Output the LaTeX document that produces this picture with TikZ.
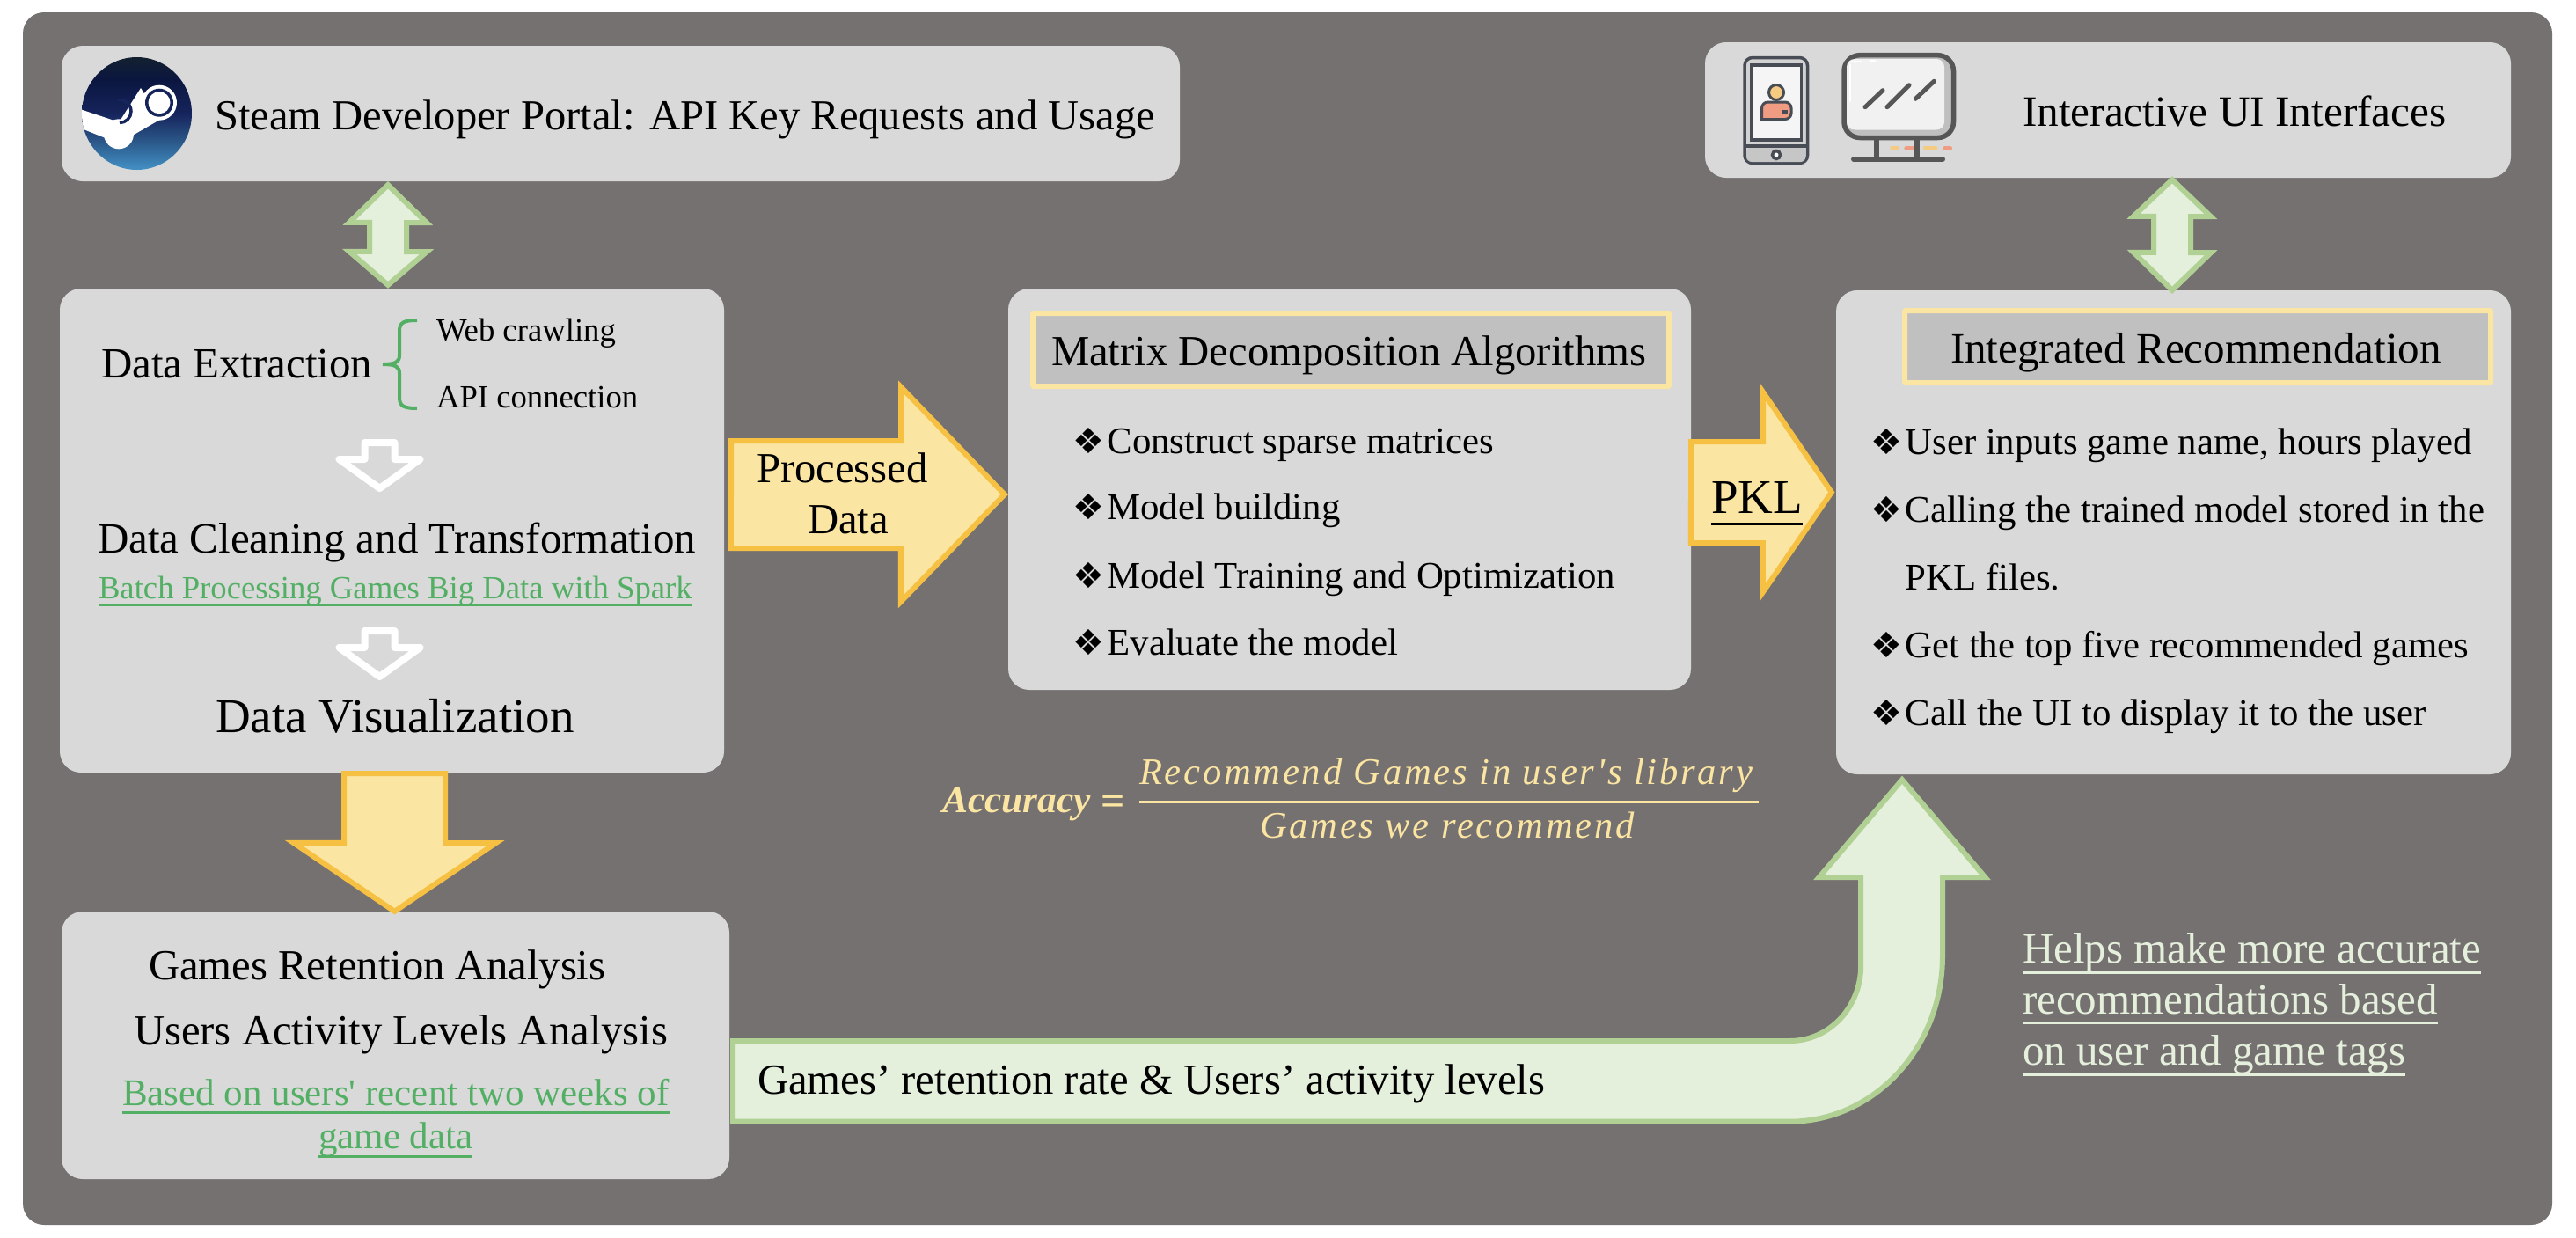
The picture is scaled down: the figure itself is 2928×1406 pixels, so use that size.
\documentclass[tikz,border=0pt]{standalone}
\usepackage{fontspec}
\setmainfont{Liberation Serif}[Ligatures=TeXOff]
\newfontfamily\dingf{DejaVu Sans}
\newfontfamily\formf{Liberation Serif}[LetterSpace=6.5,Ligatures=TeXOff]
\usetikzlibrary{calc}
\definecolor{bgc}{HTML}{767171}
\definecolor{boxc}{HTML}{D9D9D9}
\definecolor{titlec}{HTML}{C0C0C0}
\definecolor{yfill}{HTML}{FBE5A2}
\definecolor{ystroke}{HTML}{F6C142}
\definecolor{gfill}{HTML}{E4EFDC}
\definecolor{gstroke}{HTML}{B0D094}
\definecolor{gtext}{HTML}{52AF64}
\definecolor{idark}{HTML}{474C55}
\definecolor{mdark}{HTML}{565656}
\definecolor{skin}{HTML}{F5CB82}
\definecolor{salmon}{HTML}{EF9C83}
\definecolor{sa}{HTML}{4391C6}
\definecolor{sb}{HTML}{2A5687}
\definecolor{sc}{HTML}{16245C}
\definecolor{sd}{HTML}{0B1640}
\definecolor{se}{HTML}{13202F}
\pgfdeclareverticalshading{steamshade}{100bp}{color(0bp)=(sa); color(25bp)=(sa); color(38bp)=(sb); color(50bp)=(sc); color(65bp)=(sd); color(75bp)=(se); color(100bp)=(se)}
\newcommand\ultext[2]{\setbox0\hbox{#2}\rlap{\raisebox{-#1}{\rule{\wd0}{3pt}}}\box0\relax}
\newcommand\bul{\makebox[39.5pt][l]{\dingf\fontsize{40}{42}\selectfont ❖}}
\tikzset{
  panel/.style={fill=boxc,draw=none,rectangle,rounded corners=24pt,inner sep=0pt},
  titlebar/.style={fill=titlec,draw=yfill,line width=6pt,rectangle,inner sep=0pt,rounded corners=1pt},
  yarrow/.style={fill=yfill,draw=ystroke,line width=6pt,miter limit=20},
  garrow/.style={fill=gfill,draw=gstroke,line width=6pt,miter limit=20},
  warrow/.style={draw=white,line width=8pt,line join=round},
  lbl/.style={anchor=base west,inner sep=0pt,outer sep=0pt},
  big/.style={lbl,font=\fontsize{48.7}{50}\selectfont},
  mid/.style={lbl,font=\fontsize{42.8}{46}\selectfont},
  greenlbl/.style={lbl,text=gtext},
  form/.style={lbl,text=yfill,font=\formf\itshape\fontsize{42.6}{46}\selectfont},
}
\begin{document}
\begin{tikzpicture}[x=1pt,y=-1pt]
\useasboundingbox (0,0) rectangle (2928,1406);
% background and panels
\node[fill=bgc,rectangle,rounded corners=24pt,inner sep=0pt,minimum width=2875pt,minimum height=1378pt] (bg) at (1463.5,703) {};
\node[panel,minimum width=1271pt,minimum height=154pt] (steam) at (705.5,129) {};
\node[panel,minimum width=755pt,minimum height=550pt] (data) at (445.5,603) {};
\node[panel,minimum width=759pt,minimum height=304pt] (ret) at (449.5,1188) {};
\node[panel,minimum width=776pt,minimum height=456pt] (matrix) at (1534,556) {};
\node[panel,minimum width=916pt,minimum height=154pt] (ui) at (2396,125) {};
\node[panel,minimum width=767pt,minimum height=550pt] (rec) at (2470.5,605) {};
\node[titlebar,minimum width=723pt,minimum height=83pt] (mtitle) at (1535.5,397.5) {};
\node[titlebar,minimum width=666pt,minimum height=82pt] (rtitle) at (2498,394) {};

% double arrows
\coordinate (dlT) at ($(steam.south)+(-264.5,4)$);
\coordinate (dlB) at ($(data.north)+(-4.5,-4)$);
\draw[garrow] (dlT) -- ++(44,43) -- ++(-23,0) -- ++(0,33) -- ++(23,0) -- (dlB) -- ++(-44,-38) -- ++(23,0) -- ++(0,-33) -- ++(-23,0) -- cycle;
\coordinate (urT) at ($(ui.south)+(73,2)$);
\coordinate (urB) at ($(rec.north)+(-1.5,0)$);
\draw[garrow] (urT) -- ++(44,42) -- ++(-23,0) -- ++(0,41) -- ++(23,0) -- (urB) -- ++(-44,-43) -- ++(23,0) -- ++(0,-41) -- ++(-23,0) -- cycle;
% yellow arrows
\coordinate (prA) at ($(data.east)+(8,-102)$);
\coordinate (prTip) at ($(matrix.west)+(-4,6)$);
\draw[yarrow] (prA) -- ++(193,0) -- ++(0,-61) -- (prTip) -- ++(-118,122) -- ++(0,-61) -- ++(-193,0) -- cycle;
\coordinate (pkA) at ($(matrix.east)+(0,-54)$);
\coordinate (pkTip) at ($(rec.west)+(-5,-45.5)$);
\draw[yarrow] (pkA) -- ++(82,0) -- ++(0,-56) -- (pkTip) -- ++(-78,113.5) -- ++(0,-56) -- ++(-82,0) -- cycle;
\coordinate (dnA) at ($(data.south)+(-54.5,1)$);
\coordinate (dnTip) at ($(ret.north)+(-1,0)$);
\draw[yarrow] (dnA) -- ++(115,0) -- ++(0,79) -- ++(57.5,0) -- (dnTip) -- ++(-115,-78) -- ++(57.5,0) -- cycle;
% big green arrow
\coordinate (grA) at ($(ret.east)+(4,-5)$);
\coordinate (grTip) at ($(rec.south)+(-308.5,6)$);
\draw[garrow] (grA) -- ++(1201,0) .. controls +(45,0) and +(0,48) .. ++(81,-86) -- ++(0,-100) -- ++(-47.5,0) -- (grTip) -- ++(94.5,111) -- ++(-48.5,0) -- ++(0,89) .. controls +(0,105) and +(96,0) .. ++(-174,188.5) -- ++(-1201,0) -- cycle;
% white arrows inside the data panel
\draw[warrow] (414.5,503) -- (448.5,503) -- (448.5,522) -- (477.5,522) -- (431.5,555) -- (385.5,522) -- (414.5,522) -- cycle;
\draw[warrow] (414.5,717) -- (448.5,717) -- (448.5,736) -- (477.5,736) -- (431.5,769) -- (385.5,736) -- (414.5,736) -- cycle;
% brace
\draw[gtext,line width=4pt] (474,364) .. controls (460,364) and (454,366) .. (454,376) -- (454,404) .. controls (454,411) and (450,414) .. (435,414) .. controls (450,414) and (454,417) .. (454,424) -- (454,452) .. controls (454,462) and (460,464) .. (474,464);

% steam logo
\begin{scope}
\clip (155.5,129) ellipse [x radius=62.5,y radius=64];
\shade[shading=steamshade] (155.5,129) ellipse [x radius=62.5,y radius=64];
\fill[white] (181,116.7) circle [radius=20];
\fill[white] (160,100) -- (136.7,136.7) -- (151.7,153.3) -- (181.7,136) -- cycle;
\fill[white] (135,152.3) circle [radius=17];
\draw[sc,line width=3.5pt] (136,139.5) arc [start angle=90,end angle=-100,radius=13];
\fill[white] (85,122) -- (133,138) -- (135,163) -- (85,143) -- cycle;
\fill[sc] (181,116.7) circle [radius=16];
\fill[white] (181,116.7) circle [radius=12.5];
\end{scope}

% phone icon
\filldraw[fill=white!65!gray,draw=idark,line width=3.5pt,rounded corners=9pt] (1983,65.5) rectangle (2054.5,185.5);
\fill[fill=white!55!gray,rounded corners=6pt] (1985,167) rectangle (2052.5,184);
\draw[idark,line width=3.5pt] (1983,166) -- (2054.5,166);
\filldraw[fill=white!92!gray,draw=idark,line width=3.5pt] (1990.5,74) rectangle (2047.5,159);
\filldraw[fill=white,draw=idark,line width=3.5pt] (2019,176) circle [radius=4.5];
\filldraw[fill=salmon,draw=idark,line width=3pt,rounded corners=7pt] (2002.5,135.5) -- (2002.5,116) -- (2036,116) -- (2036,135.5) [sharp corners] -- cycle;
\filldraw[fill=skin,draw=idark,line width=3pt] (2019,105) circle [radius=8.5];
\fill[idark] (2025,125) rectangle (2031.7,129);

% monitor icon
\foreach \xa/\xb/\cc in {2150.7/2156.7/skin,2166.7/2176.7/salmon,2188.3/2200/skin,2210.7/2216.7/salmon}
  \draw[\cc,line width=4.7pt,line cap=round] (\xa,168.3) -- (\xb,168.3);
\draw[mdark,line width=6pt] (2132.7,158) -- (2132.7,179);
\draw[mdark,line width=6pt] (2179.3,158) -- (2179.3,179);
\draw[mdark,line width=6pt,line cap=round] (2107,181) -- (2208,181);
\filldraw[fill=white!50!gray,draw=mdark,line width=5.5pt,rounded corners=18pt] (2096,62.7) rectangle (2220.5,156.5);
\fill[white!89!gray,rounded corners=9pt] (2099,67) rectangle (2210,147.5);
\draw[white,line width=2pt,line cap=round] (2103,73) -- (2103,115);
\draw[white,line width=2.5pt,line cap=round] (2105,70) -- (2116,70);
\draw[white,line width=2.5pt,line cap=round] (2126,69.5) -- (2131,69.5);
\draw[mdark,line width=5pt,line cap=round] (2120,121.7) -- (2140,102.7);
\draw[mdark,line width=5pt,line cap=round] (2145,121.7) -- (2170,96.7);
\draw[mdark,line width=5pt,line cap=round] (2177.3,112.3) -- (2198.3,92.3);

% texts
\node[lbl,font=\fontsize{48.6}{50}\selectfont] (tsteam) at (244,147) {Steam Developer Portal: API Key Requests and Usage};
\node[lbl,font=\fontsize{49.3}{50}\selectfont] (tui) at (2299,143) {Interactive UI Interfaces};
\node[lbl,font=\fontsize{48.9}{50}\selectfont] (text) at (115,429) {Data Extraction};
\node[lbl,font=\fontsize{36.7}{38}\selectfont] (tweb) at (496,387) {Web crawling};
\node[lbl,font=\fontsize{36.7}{38}\selectfont] (tapi) at (496,463) {API connection};
\node[lbl,font=\fontsize{49}{50}\selectfont] (tclean) at (111,628) {Data Cleaning and Transformation};
\node[greenlbl,font=\fontsize{36.7}{38}\selectfont] (tbatch) at (112,680) {\ultext{8.5pt}{Batch Processing Games Big Data with Spark}};
\node[lbl,font=\fontsize{55}{57}\selectfont] (tvis) at (245,832) {Data Visualization};
\node[big] (tgra) at (169,1113) {Games Retention Analysis};
\node[big] (tusa) at (152,1187) {Users Activity Levels Analysis};
\node[greenlbl,font=\fontsize{43}{45}\selectfont] (tbased) at (139,1256) {\ultext{9.5pt}{Based on users' recent two weeks of}};
\node[greenlbl,font=\fontsize{43}{45}\selectfont] (tgame) at (362,1305) {\ultext{10.5pt}{game data}};
\node[big] (tproc) at (860,548) {Processed};
\node[big] (tdata) at (918,606) {Data};
\node[lbl,font=\fontsize{55}{57}\selectfont] (tpkl) at (1945,583) {\ultext{13.5pt}{PKL}};
\node[big] (tmat) at (1195,415) {Matrix Decomposition Algorithms};
\node[mid] (m1) at (1219,515) {\bul Construct sparse matrices};
\node[mid] (m2) at (1219,590) {\bul Model building};
\node[mid] (m3) at (1219,668) {\bul Model Training and Optimization};
\node[mid] (m4) at (1219,744) {\bul Evaluate the model};
\node[lbl,font=\fontsize{49.1}{50}\selectfont] (trec) at (2217,412) {Integrated Recommendation};
\node[mid] (r1) at (2126,516) {\bul User inputs game name, hours played};
\node[mid] (r2) at (2126,593) {\bul Calling the trained model stored in the};
\node[mid] (r3) at (2165.5,670) {PKL files.};
\node[mid] (r4) at (2126,747) {\bul Get the top five recommended games};
\node[mid] (r5) at (2126,824) {\bul Call the UI to display it to the user};
\node[big] (tgreen) at (861,1243) {Games’ retention rate \& Users’ activity levels};
% helps note
\node[lbl,text=gfill,font=\fontsize{49}{50}\selectfont] (h1) at (2299,1094) {\ultext{12.5pt}{Helps make more accurate}};
\node[lbl,text=gfill,font=\fontsize{49}{50}\selectfont] (h2) at (2299,1152) {\ultext{11.5pt}{recommendations based}};
\node[lbl,text=gfill,font=\fontsize{49}{50}\selectfont] (h3) at (2299,1210) {\ultext{12.5pt}{on user and game tags}};
% formula
\node[lbl,text=yfill,font=\bfseries\itshape\fontsize{43.5}{46}\selectfont] (facc) at (1071,923) {Accuracy};
\node[lbl,text=yfill,font=\bfseries\fontsize{48}{48}\selectfont] (feq) at (1251,926) {=};
\node[form] (fnum) at (1295,891) {Recommend Games in user's library};
\node[form] (fden) at (1432,952) {Games we recommend};
\draw[yfill,line width=3pt] (fnum.base west |- 0,911) -- (1999,911);
\end{tikzpicture}
\end{document}
